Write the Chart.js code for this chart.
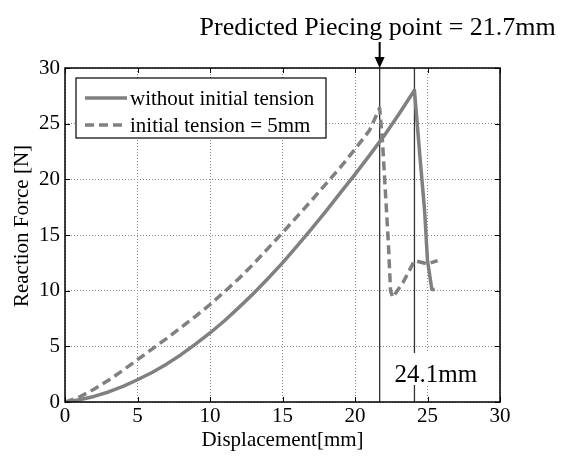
<!DOCTYPE html>
<html>
<head>
<meta charset="utf-8">
<script src="https://cdn.jsdelivr.net/npm/chart.js@4"></script>
<style>
html,body{margin:0;padding:0;background:#fff;}
#c{display:block;}
</style>
</head>
<body>
<canvas id="c" width="566" height="456"></canvas>
<script>
// ---- data ----
const seriesNames = ['without initial tension', 'initial tension = 5mm'];
const solidX = [0, 1, 2, 3, 4, 5, 6, 7, 8, 9, 10, 11, 12, 13, 14, 15, 16, 17, 18, 19, 20, 21, 22, 23, 24.1, 24.5, 24.8, 25.0, 25.3, 25.5];
const solidY = [0, 0.2, 0.5, 0.9, 1.4, 2.0, 2.65, 3.4, 4.25, 5.2, 6.2, 7.3, 8.5, 9.75, 11.1, 12.5, 14.0, 15.55, 17.15, 18.8, 20.45, 22.15, 23.9, 25.8, 28.0, 21.7, 17.2, 12.7, 10.1, 10.1];
const dashedX = [0, 1, 2, 3, 4, 5, 6, 7, 8, 9, 10, 11, 12, 13, 14, 15, 16, 17, 18, 19, 20, 21, 21.7, 21.9, 22.1, 22.3, 22.45, 22.6, 23.3, 24.1, 25.0, 25.7];
const dashedY = [0, 0.45, 1.15, 1.95, 2.85, 3.8, 4.75, 5.7, 6.7, 7.7, 8.75, 9.9, 11.1, 12.4, 13.8, 15.2, 16.65, 18.1, 19.6, 21.1, 22.7, 24.4, 26.4, 23.3, 18.8, 14.3, 10.0, 9.4, 10.7, 12.7, 12.4, 12.7];
const xTicks = [0, 5, 10, 15, 20, 25, 30];
const yTicks = [0, 5, 10, 15, 20, 25, 30];
const xTitle = 'Displacement[mm]';
const yTitle = 'Reaction Force [N]';
const predictedX = 21.7;
const peakX = 24.1;
const topLabel = 'Predicted Piecing point = 21.7mm';
const peakLabel = '24.1mm';

const FONT = '"Liberation Serif", "Times New Roman", serif';
const GREY = '#808080';

function toPts(xs, ys){ return xs.map((x,i)=>({x:x, y:ys[i]})); }

const annot = {
  id: 'annot',
  beforeDatasetsDraw(chart){
    const ctx = chart.ctx, a = chart.chartArea;
    const xs = chart.scales.x;
    ctx.save();
    ctx.strokeStyle = '#333';
    ctx.lineWidth = 1.3;
    let px = xs.getPixelForValue(predictedX);
    ctx.beginPath(); ctx.moveTo(px, a.top); ctx.lineTo(px, a.bottom); ctx.stroke();
    let pk = xs.getPixelForValue(peakX);
    ctx.beginPath(); ctx.moveTo(pk, a.top); ctx.lineTo(pk, a.bottom); ctx.stroke();
    ctx.font = '25px ' + FONT;
    const w = ctx.measureText(peakLabel).width;
    const lx = pk - 20;
    ctx.fillStyle = '#fff';
    ctx.fillRect(lx - 2, a.bottom - 49, w + 6, 32);
    ctx.fillStyle = '#000';
    ctx.textAlign = 'left';
    ctx.textBaseline = 'alphabetic';
    ctx.fillText(peakLabel, lx, a.bottom - 20);
    ctx.restore();
  },
  afterDraw(chart){
    const ctx = chart.ctx, a = chart.chartArea;
    const xs = chart.scales.x, ys = chart.scales.y;
    ctx.save();
    ctx.strokeStyle = '#000';
    ctx.lineWidth = 1.5;
    ctx.strokeRect(a.left, a.top, a.right - a.left, a.bottom - a.top);
    ctx.lineWidth = 1;
    const tl = 5;
    xTicks.forEach(v=>{
      const p = Math.round(xs.getPixelForValue(v)) + 0.5;
      ctx.beginPath();
      ctx.moveTo(p, a.bottom); ctx.lineTo(p, a.bottom - tl);
      ctx.moveTo(p, a.top); ctx.lineTo(p, a.top + tl);
      ctx.stroke();
    });
    yTicks.forEach(v=>{
      const p = Math.round(ys.getPixelForValue(v)) + 0.5;
      ctx.beginPath();
      ctx.moveTo(a.left, p); ctx.lineTo(a.left + tl, p);
      ctx.moveTo(a.right, p); ctx.lineTo(a.right - tl, p);
      ctx.stroke();
    });
    // y axis title
    ctx.save();
    ctx.translate(22, 226);
    ctx.rotate(-Math.PI / 2);
    ctx.fillStyle = '#000';
    ctx.font = '21px ' + FONT;
    ctx.textAlign = 'center';
    ctx.textBaseline = 'middle';
    ctx.fillText(yTitle, 0, 0);
    ctx.restore();
    // legend
    const bx = 76, by = 78, bw = 250, bh = 60;
    ctx.fillStyle = '#fff';
    ctx.fillRect(bx, by, bw, bh);
    ctx.strokeStyle = '#000';
    ctx.lineWidth = 1.2;
    ctx.strokeRect(bx, by, bw, bh);
    const rows = [by + 20, by + 47];
    chart.data.datasets.forEach((ds, i)=>{
      ctx.strokeStyle = ds.borderColor;
      ctx.lineWidth = ds.borderWidth;
      ctx.setLineDash(ds.borderDash || []);
      ctx.beginPath(); ctx.moveTo(bx + 9, rows[i]); ctx.lineTo(bx + 51, rows[i]); ctx.stroke();
      ctx.setLineDash([]);
      ctx.fillStyle = '#000';
      ctx.font = '21px ' + FONT;
      ctx.textAlign = 'left';
      ctx.textBaseline = 'middle';
      ctx.fillText(ds.label, bx + 54, rows[i] + 1);
    });
    // top label and arrow
    const px = xs.getPixelForValue(predictedX);
    ctx.fillStyle = '#000';
    ctx.font = '26px ' + FONT;
    ctx.textAlign = 'center';
    ctx.textBaseline = 'alphabetic';
    ctx.fillText(topLabel, px - 2, 35);
    ctx.strokeStyle = '#000';
    ctx.lineWidth = 2;
    ctx.beginPath(); ctx.moveTo(px, 42); ctx.lineTo(px, 59); ctx.stroke();
    ctx.beginPath();
    ctx.moveTo(px - 5, 57); ctx.lineTo(px + 5, 57); ctx.lineTo(px, a.top); ctx.closePath();
    ctx.fill();
    ctx.restore();
  }
};

new Chart(document.getElementById('c'), {
  type: 'scatter',
  data: {
    datasets: [
      { label: seriesNames[0], data: toPts(solidX, solidY), showLine: true, borderColor: GREY, backgroundColor: GREY, borderWidth: 3.5, pointRadius: 0, tension: 0, borderJoinStyle: 'round' },
      { label: seriesNames[1], data: toPts(dashedX, dashedY), showLine: true, borderColor: GREY, backgroundColor: GREY, borderWidth: 3.5, borderDash: [9, 5], pointRadius: 0, tension: 0, borderJoinStyle: 'round' }
    ]
  },
  options: {
    responsive: false,
    devicePixelRatio: 1,
    animation: false,
    layout: { padding: { top: 68, right: 66, left: 0, bottom: 0 } },
    plugins: { legend: { display: false }, tooltip: { enabled: false } },
    scales: {
      x: {
        type: 'linear', min: 0, max: 30,
        afterBuildTicks(s){ s.ticks = xTicks.map(v=>({value:v})); },
        afterFit(s){ s.height = 54; },
        ticks: { color: '#000', font: { family: FONT, size: 21 }, padding: 2, maxRotation: 0 },
        grid: { color: '#8a8a8a', lineWidth: 1, drawTicks: false },
        border: { display: false, dash: [1, 2] },
        title: { display: true, text: xTitle, color: '#000', font: { family: FONT, size: 21 }, padding: { top: 0, bottom: 3 } }
      },
      y: {
        type: 'linear', min: 0, max: 30,
        afterBuildTicks(s){ s.ticks = yTicks.map(v=>({value:v})); },
        afterFit(s){ s.width = 65; },
        ticks: { color: '#000', font: { family: FONT, size: 21 }, padding: 5 },
        grid: { color: '#8a8a8a', lineWidth: 1, drawTicks: false },
        border: { display: false, dash: [1, 2] },
        title: { display: false }
      }
    }
  },
  plugins: [annot]
});
</script>
</body>
</html>
